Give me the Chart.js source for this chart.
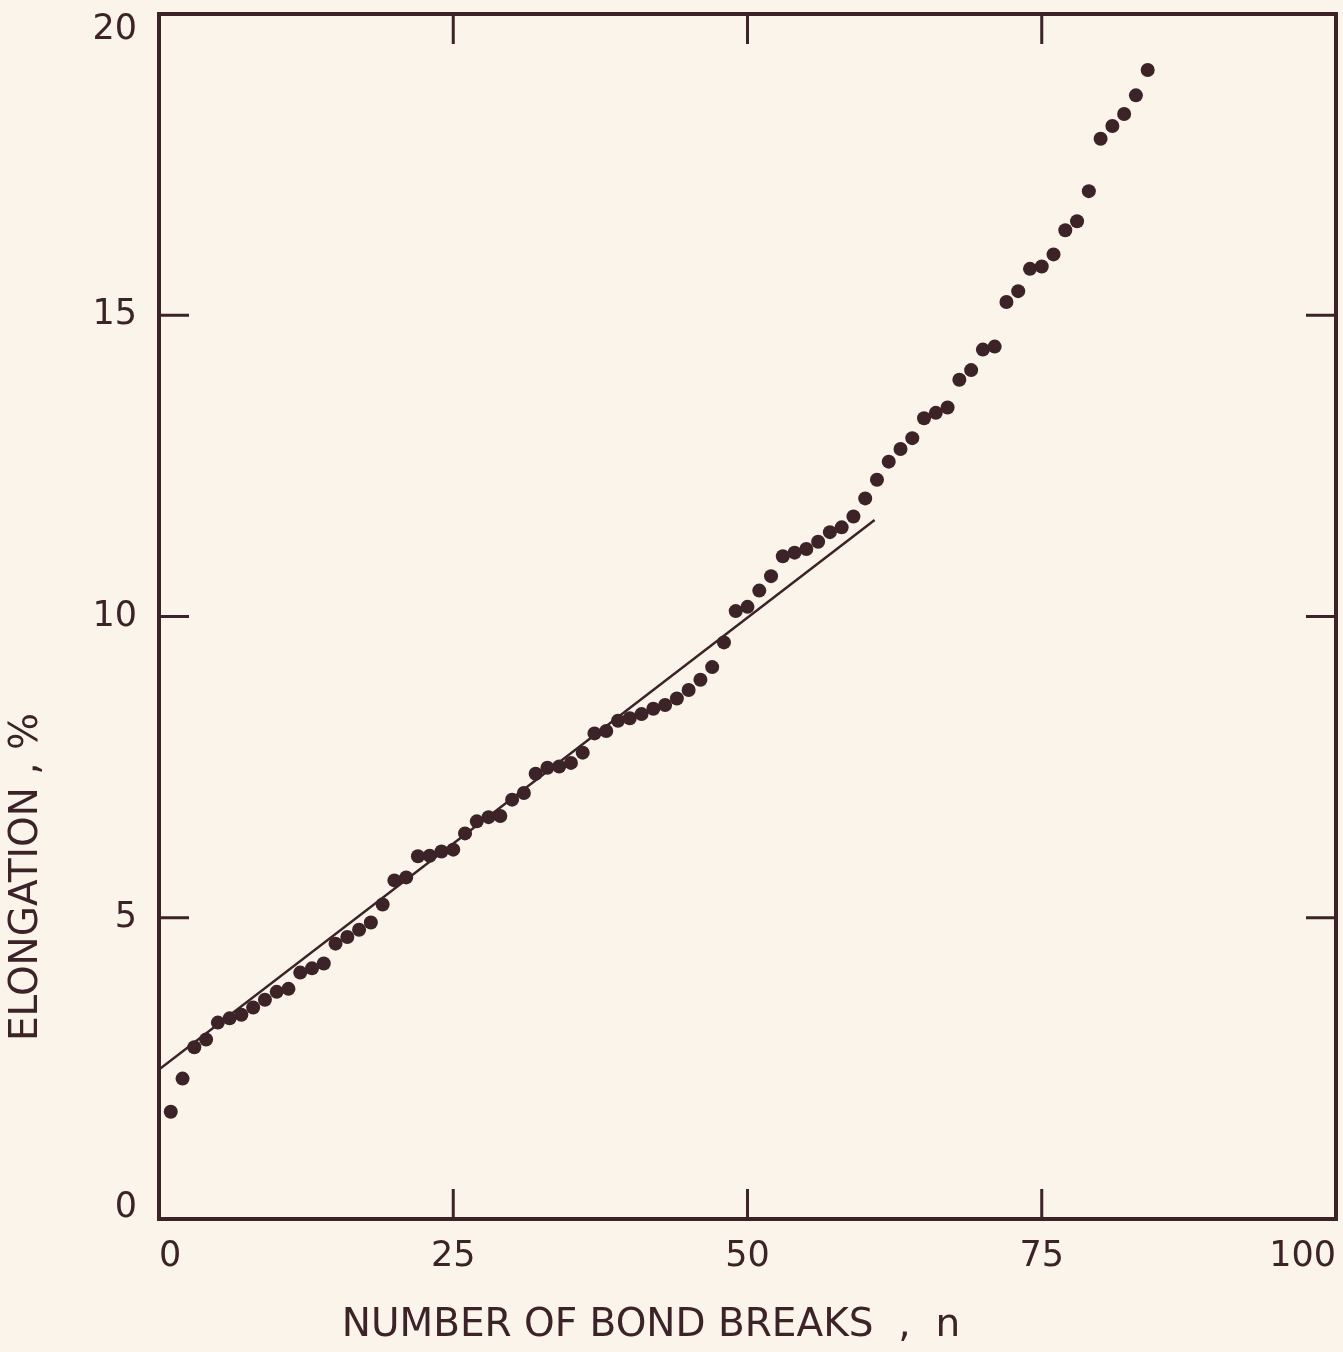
<!DOCTYPE html>
<html>
<head>
<meta charset="utf-8">
<script src="https://cdn.jsdelivr.net/npm/chart.js@4.4.0/dist/chart.umd.min.js"></script>
<style>
  html, body { margin: 0; padding: 0; background: #faf4ea; }
  #wrap { width: 1343px; height: 1352px; }
</style>
</head>
<body>
<div id="wrap"><canvas id="elongation-chart" width="1343" height="1352"></canvas></div>
<script>
// points
var bondBreaks = [1, 2, 3, 4, 5, 6, 7, 8, 9, 10, 11, 12, 13, 14, 15, 16, 17, 18, 19, 20,
    21, 22, 23, 24, 25, 26, 27, 28, 29, 30, 31, 32, 33, 34, 35, 36, 37, 38, 39, 40,
    41, 42, 43, 44, 45, 46, 47, 48, 49, 50, 51, 52, 53, 54, 55, 56, 57, 58, 59, 60,
    61, 62, 63, 64, 65, 66, 67, 68, 69, 70, 71, 72, 73, 74, 75, 76, 77, 78, 79, 80,
    81, 82, 83, 84];
var elongation = [1.78, 2.33, 2.85, 2.98, 3.26, 3.33, 3.39, 3.51, 3.64, 3.77, 3.82, 4.09, 4.16, 4.24, 4.57, 4.68, 4.80, 4.92, 5.22, 5.62,
    5.67, 6.02, 6.03, 6.10, 6.13, 6.40, 6.60, 6.67, 6.69, 6.96, 7.07, 7.39, 7.49, 7.51, 7.57, 7.74, 8.06, 8.10, 8.27, 8.31,
    8.38, 8.47, 8.53, 8.64, 8.78, 8.95, 9.16, 9.57, 10.09, 10.16, 10.43, 10.67, 11.00, 11.06, 11.12, 11.24, 11.40, 11.48, 11.66, 11.96,
    12.27, 12.57, 12.78, 12.96, 13.29, 13.38, 13.47, 13.93, 14.09, 14.43, 14.48, 15.22, 15.40, 15.77, 15.81, 16.01, 16.41, 16.56, 17.06, 17.93,
    18.14, 18.34, 18.65, 19.07];

// straight line fitted through the low n part
var fitBreaks = [0, 60.8];
var fitElongation = [2.48, 11.6];

var xTicks = [0, 25, 50, 75, 100];
var yTicks = [0, 5, 10, 15, 20];
var xTitle = 'NUMBER OF BOND BREAKS  ,  n';
var yTitle = 'ELONGATION , %';

var ink = '#3b2328';
var fontFamily = '"DejaVu Sans", "Liberation Sans", sans-serif';

function toPoints(xs, ys) {
    return xs.map(function (v, i) {
        return { x: v, y: ys[i] };
    });
}

// labels are allowed to hang over the plot edge, don't let them shrink it
function noLabelPadding(scale) {
    scale.paddingTop = 0;
    scale.paddingBottom = 0;
    scale.paddingLeft = 0;
    scale.paddingRight = 0;
}

// box round the plot with short ticks pointing inwards
var frame = {
    id: 'frame',
    afterDatasetsDraw: function (chart) {
        var ctx = chart.ctx, a = chart.chartArea;
        var xs = chart.scales.x, ys = chart.scales.y;
        var len = 30;
        ctx.save();
        ctx.strokeStyle = ink;
        ctx.lineWidth = 4;
        ctx.strokeRect(a.left, a.top, a.right - a.left, a.bottom - a.top);
        ctx.lineWidth = 3;
        ctx.beginPath();
        xs.ticks.forEach(function (t) {
            if (t.value <= xs.min || t.value >= xs.max) return;
            var px = xs.getPixelForValue(t.value);
            ctx.moveTo(px, a.top); ctx.lineTo(px, a.top + len);
            ctx.moveTo(px, a.bottom); ctx.lineTo(px, a.bottom - len);
        });
        ys.ticks.forEach(function (t) {
            if (t.value <= ys.min || t.value >= ys.max) return;
            var py = ys.getPixelForValue(t.value);
            ctx.moveTo(a.left, py); ctx.lineTo(a.left + len, py);
            ctx.moveTo(a.right, py); ctx.lineTo(a.right - len, py);
        });
        ctx.stroke();
        ctx.restore();
    }
};

// axis titles sit off centre in the original, so they are placed by hand
var titles = {
    id: 'titles',
    afterDraw: function (chart) {
        var ctx = chart.ctx;
        ctx.save();
        ctx.fillStyle = ink;
        ctx.font = '39px ' + fontFamily;
        ctx.textAlign = 'center';
        ctx.textBaseline = 'middle';
        ctx.fillText(xTitle, 651, 1326);
        ctx.translate(27, 877);
        ctx.rotate(-Math.PI / 2);
        ctx.fillText(yTitle, 0, 0);
        ctx.restore();
    }
};

var chart = new Chart(document.getElementById('elongation-chart'), {
    type: 'scatter',
    data: {
        datasets: [{
            label: 'measured',
            data: toPoints(bondBreaks, elongation),
            pointRadius: 7,
            pointBackgroundColor: ink,
            pointBorderWidth: 0,
            showLine: false
        }, {
            label: 'fit',
            data: toPoints(fitBreaks, fitElongation),
            showLine: true,
            borderColor: ink,
            borderWidth: 2.5,
            pointRadius: 0,
            fill: false
        }]
    },
    options: {
        responsive: false,
        animation: false,
        layout: { padding: { top: 14, right: 6, left: 0, bottom: 0 } },
        plugins: {
            legend: { display: false },
            tooltip: { enabled: false }
        },
        scales: {
            x: {
                type: 'linear',
                min: 0,
                max: 100,
                afterBuildTicks: function (scale) {
                    scale.ticks = xTicks.map(function (v) { return { value: v }; });
                },
                afterFit: function (scale) {
                    scale.height = 133;
                    noLabelPadding(scale);
                },
                grid: { display: false, drawTicks: false },
                border: { display: false },
                ticks: {
                    align: 'inner',
                    padding: 17,
                    color: ink,
                    font: { family: fontFamily, size: 35 },
                    maxRotation: 0
                }
            },
            y: {
                type: 'linear',
                min: 0,
                max: 20,
                afterBuildTicks: function (scale) {
                    scale.ticks = yTicks.map(function (v) { return { value: v }; });
                },
                afterFit: function (scale) {
                    scale.width = 159;
                    noLabelPadding(scale);
                },
                grid: { display: false, drawTicks: false },
                border: { display: false },
                ticks: {
                    padding: 22,
                    color: ink,
                    // the end labels sit a little inside the plot: an empty
                    // extra line pushes them down (top) or up (bottom)
                    callback: function (value) {
                        if (value === 20) return ['', '20'];
                        if (value === 0) return ['0', ''];
                        return String(value);
                    },
                    font: function (c) {
                        var v = c.tick ? c.tick.value : null;
                        var lh = v === 20 ? '32px' : (v === 0 ? '22px' : 1.2);
                        return { family: fontFamily, size: 35, lineHeight: lh };
                    }
                }
            }
        }
    },
    plugins: [frame, titles]
});
</script>
</body>
</html>
